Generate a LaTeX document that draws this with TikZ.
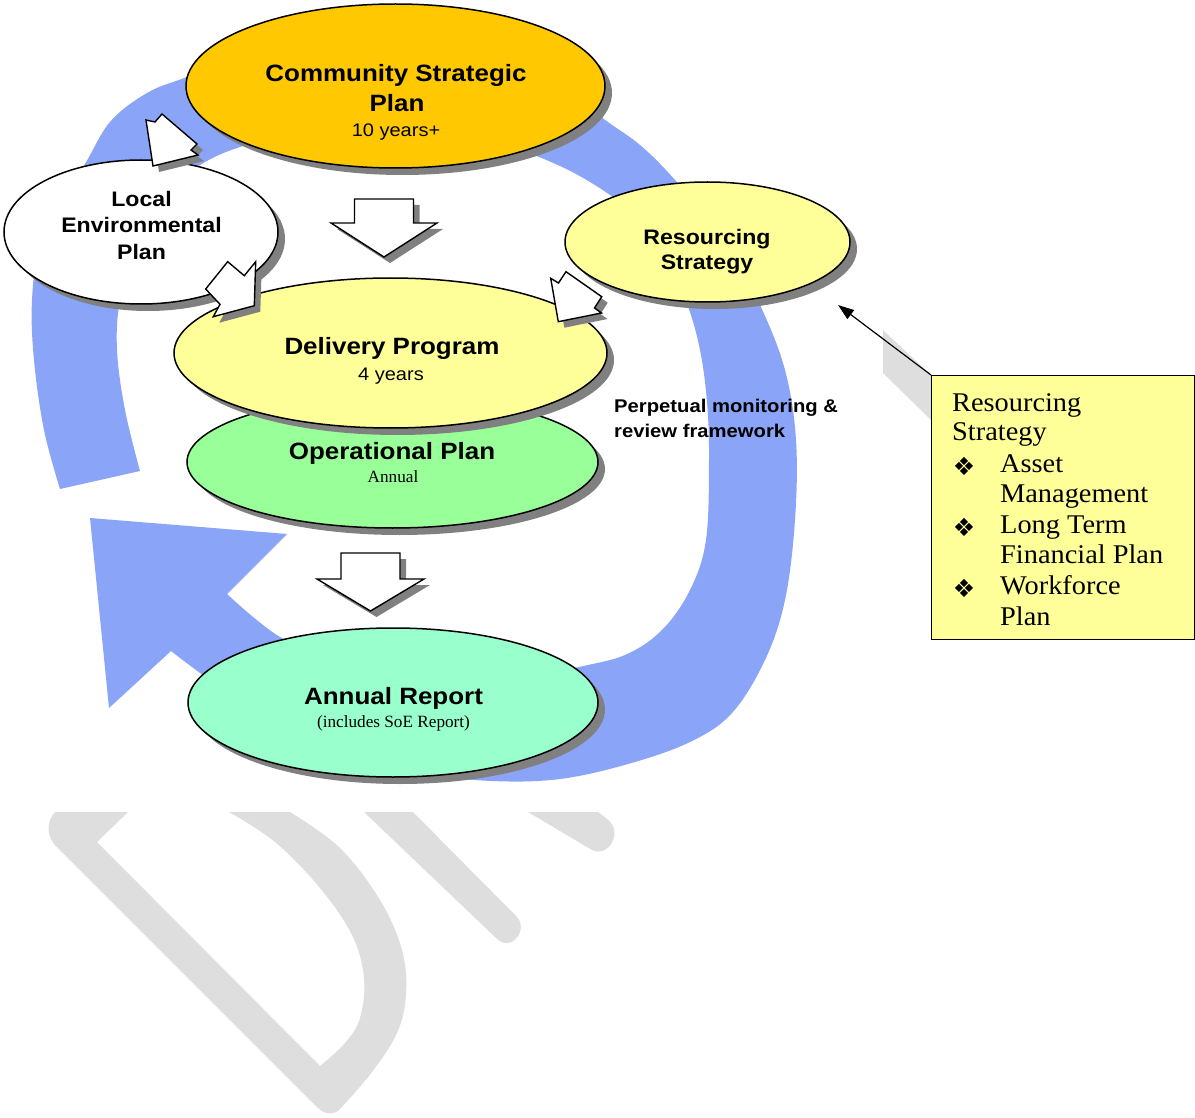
\documentclass[tikz,border=0pt]{standalone}
\usepackage{fontspec}
\setmainfont{Liberation Serif}
\newfontfamily\sansb[FakeStretch=1.1]{Liberation Sans}
\newfontfamily\boxfont[FakeStretch=1.05]{Liberation Serif}
\newfontfamily\symfont{DejaVu Sans}
\usetikzlibrary{shapes.geometric,shadows,arrows.meta}
\definecolor{ringblue}{RGB}{138,164,247}
\definecolor{cspcol}{RGB}{255,200,0}
\definecolor{paleyel}{RGB}{255,255,153}
\definecolor{opgreen}{RGB}{153,255,153}
\definecolor{armint}{RGB}{153,255,204}
\definecolor{shadowgray}{RGB}{128,128,128}
\definecolor{wmgray}{RGB}{222,222,222}
\begin{document}
\begin{tikzpicture}[x=1pt,y=-1pt,
  oval/.style={ellipse, draw=black, line width=1.5pt, inner sep=0pt,
    general shadow={fill=shadowgray, shadow xshift=7pt, shadow yshift=-7pt}},
  blockarrow/.style={fill=white, draw=black, line width=1.4pt, line join=miter,
    general shadow={fill=shadowgray, shadow xshift=6pt, shadow yshift=-6pt}},
  lbl/.style={inner sep=0pt, anchor=base},
  bigtxt/.style={lbl, font=\sansb\bfseries\fontsize{23.6}{28}\selectfont},
  midtxt/.style={lbl, font=\sansb\bfseries\fontsize{21}{25}\selectfont},
  monitortxt/.style={inner sep=0pt, anchor=base west, font=\sansb\bfseries\fontsize{18.4}{22}\selectfont},
  subtxt/.style={lbl, font=\sansb\fontsize{18.2}{22}\selectfont},
  serifsmall/.style={lbl, font=\rmfamily\fontsize{17.2}{20}\selectfont},
  boxtxt/.style={inner sep=0pt, anchor=base west, font=\boxfont\fontsize{27}{31}\selectfont},
  bullettxt/.style={inner sep=0pt, anchor=base, font=\symfont\fontsize{25}{28}\selectfont}
]
\useasboundingbox (0,0) rectangle (1195,1118);
\fill[white] (0,0) rectangle (1195,1118);

% ---------- watermark remnants ----------
\fill[wmgray] (55,812) .. controls (46,822) and (46,838) .. (58,848) -- (318,1108)
  .. controls (326,1116) and (336,1114) .. (340,1109)
  -- plot[smooth, tension=0.6] coordinates {(340,1109) (372,1072) (397,1033) (406,995) (402,950) (380,900) (340,848) (290,812)}
  -- (229,812)
  -- plot[smooth, tension=0.6] coordinates {(229,812) (275,842) (320,888) (352,935) (364,978) (360,1018) (345,1043) (320,1066)}
  -- (97,842) -- (128,812) -- cycle;
\fill[wmgray] (364,812) -- (495,937) .. controls (503,947) and (516,944) .. (520,932)
  .. controls (522,925) and (520,920) .. (517,917) -- (413,812) -- cycle;
\fill[wmgray] (528,812) -- (592,850) .. controls (600,854) and (610,850) .. (614,838)
  .. controls (616,830) and (612,822) .. (606,818) -- (598,812) -- cycle;
\fill[wmgray] (883,330) -- (931,375) -- (931,420) -- (883,373) -- cycle;

% ---------- blue circular arrow ----------
\fill[ringblue] plot[smooth, tension=0.6] coordinates {(60,489) (44,430) (34,360) (32,300) (40,240) (58,198) (83,167) (110,122) (147,93) (187,77) (260,50) (340,35) (420,33) (500,48) (560,80) (600,116) (640,145) (675,180) (725,240) (760,305) (785,370) (796,440) (795,520) (785,600) (765,660) (732,713) (690,742) (628,764) (560,779) (492,781) (420,773) (340,752) (255,713) (200,673) (171,651)}
  -- (109,708) -- (90,518) -- (287,534) -- (227,594)
  -- plot[smooth, tension=0.6] coordinates {(227,594) (280,637) (350,668) (450,684) (530,680) (575,668) (625,655) (662,630) (690,590) (706,540) (709,460) (707,402) (700,350) (687,304) (665,260) (640,222) (610,195) (560,166) (500,145) (400,128) (300,133) (240,147) (197,167) (160,200) (135,250) (120,300) (117,350) (125,410) (140,471)}
  -- cycle;

% ---------- ellipses ----------
\node[oval, fill=white,   minimum width=274pt, minimum height=144pt] (lep) at (141,232) {};
\node[oval, fill=cspcol,  minimum width=419pt, minimum height=164pt] (csp) at (395.5,86) {};
\node[oval, fill=paleyel, minimum width=285pt, minimum height=120pt] (rs)  at (707.5,242) {};
\node[oval, fill=opgreen, minimum width=411pt, minimum height=132pt] (op)  at (392.5,462) {};
\node[oval, fill=paleyel, minimum width=433pt, minimum height=150pt] (dp)  at (390.5,353) {};
\node[oval, fill=armint,  minimum width=410pt, minimum height=149pt] (ar)  at (393,702.5) {};

% ---------- block arrows ----------
\draw[blockarrow] (354.5,199) -- (413.5,199) -- (413.5,223) -- (437,223) -- (384,257) -- (331,223) -- (354.5,223) -- cycle;
\draw[blockarrow] (341,553) -- (400,553) -- (400,579) -- (424,579) -- (370.5,611) -- (317,579) -- (341,579) -- cycle;
\draw[blockarrow] (146,120) -- (155,122) -- (162,114) -- (197,144) -- (191,150) -- (198,155) -- (153,166) -- cycle;
\draw[blockarrow] (205.7,289) -- (227.7,261.7) -- (244.3,275.7) -- (255.7,261.7) -- (254.3,305.7) -- (213.3,316.7) -- (220,304.3) -- cycle;
\draw[blockarrow] (550.7,278.3) -- (558.5,283) -- (566,271.7) -- (601.7,296.7) -- (594.5,308) -- (601.5,313) -- (558.3,321.7) -- cycle;

% ---------- texts ----------
\node[bigtxt] (csp1) at (396,82) {Community Strategic};
\node[bigtxt] (csp2) at (397,112) {Plan};
\node[subtxt] (csp3) at (396,137) {10 years+};

\node[midtxt] (lep1) at (141.5,207) {Local};
\node[midtxt] (lep2) at (141.5,233) {Environmental};
\node[midtxt] (lep3) at (141.5,260) {Plan};

\node[midtxt] (rs1) at (707,245) {Resourcing};
\node[midtxt] (rs2) at (707,270) {Strategy};

\node[bigtxt] (dp1) at (392,355) {Delivery Program};
\node[subtxt] (dp2) at (391,380) {4 years};

\node[bigtxt] (op1) at (392,459) {Operational Plan};
\node[serifsmall] (op2) at (393,482) {Annual};

\node[bigtxt] (ar1) at (393.5,704) {Annual Report};
\node[serifsmall] (ar2) at (393.5,727) {(includes SoE Report)};

\node[monitortxt] (mon1) at (614,412) {Perpetual monitoring \&};
\node[monitortxt] (mon2) at (614,437) {review framework};

% ---------- callout box ----------
\node[draw=black, line width=1.2pt, fill=paleyel, minimum width=263pt, minimum height=264pt,
      anchor=north west, inner sep=0pt] (box) at (931,375) {};
\coordinate (rstip) at (838,305);
\draw[line width=1.2pt, -{Triangle[length=16pt,width=11pt]}] (box.north west) -- (rstip);

\node[boxtxt] (bx1) at (952,411) {Resourcing};
\node[boxtxt] (bx2) at (952,440) {Strategy};
\node[bullettxt] (bu1) at (964,475) {❖};
\node[boxtxt] (bx3) at (1000,472) {Asset};
\node[boxtxt] (bx4) at (1000,502) {Management};
\node[bullettxt] (bu2) at (964,536) {❖};
\node[boxtxt] (bx5) at (1000,533) {Long Term};
\node[boxtxt] (bx6) at (1000,563) {Financial Plan};
\node[bullettxt] (bu3) at (964,597) {❖};
\node[boxtxt] (bx7) at (1000,594) {Workforce};
\node[boxtxt] (bx8) at (1000,625) {Plan};
\end{tikzpicture}
\end{document}
